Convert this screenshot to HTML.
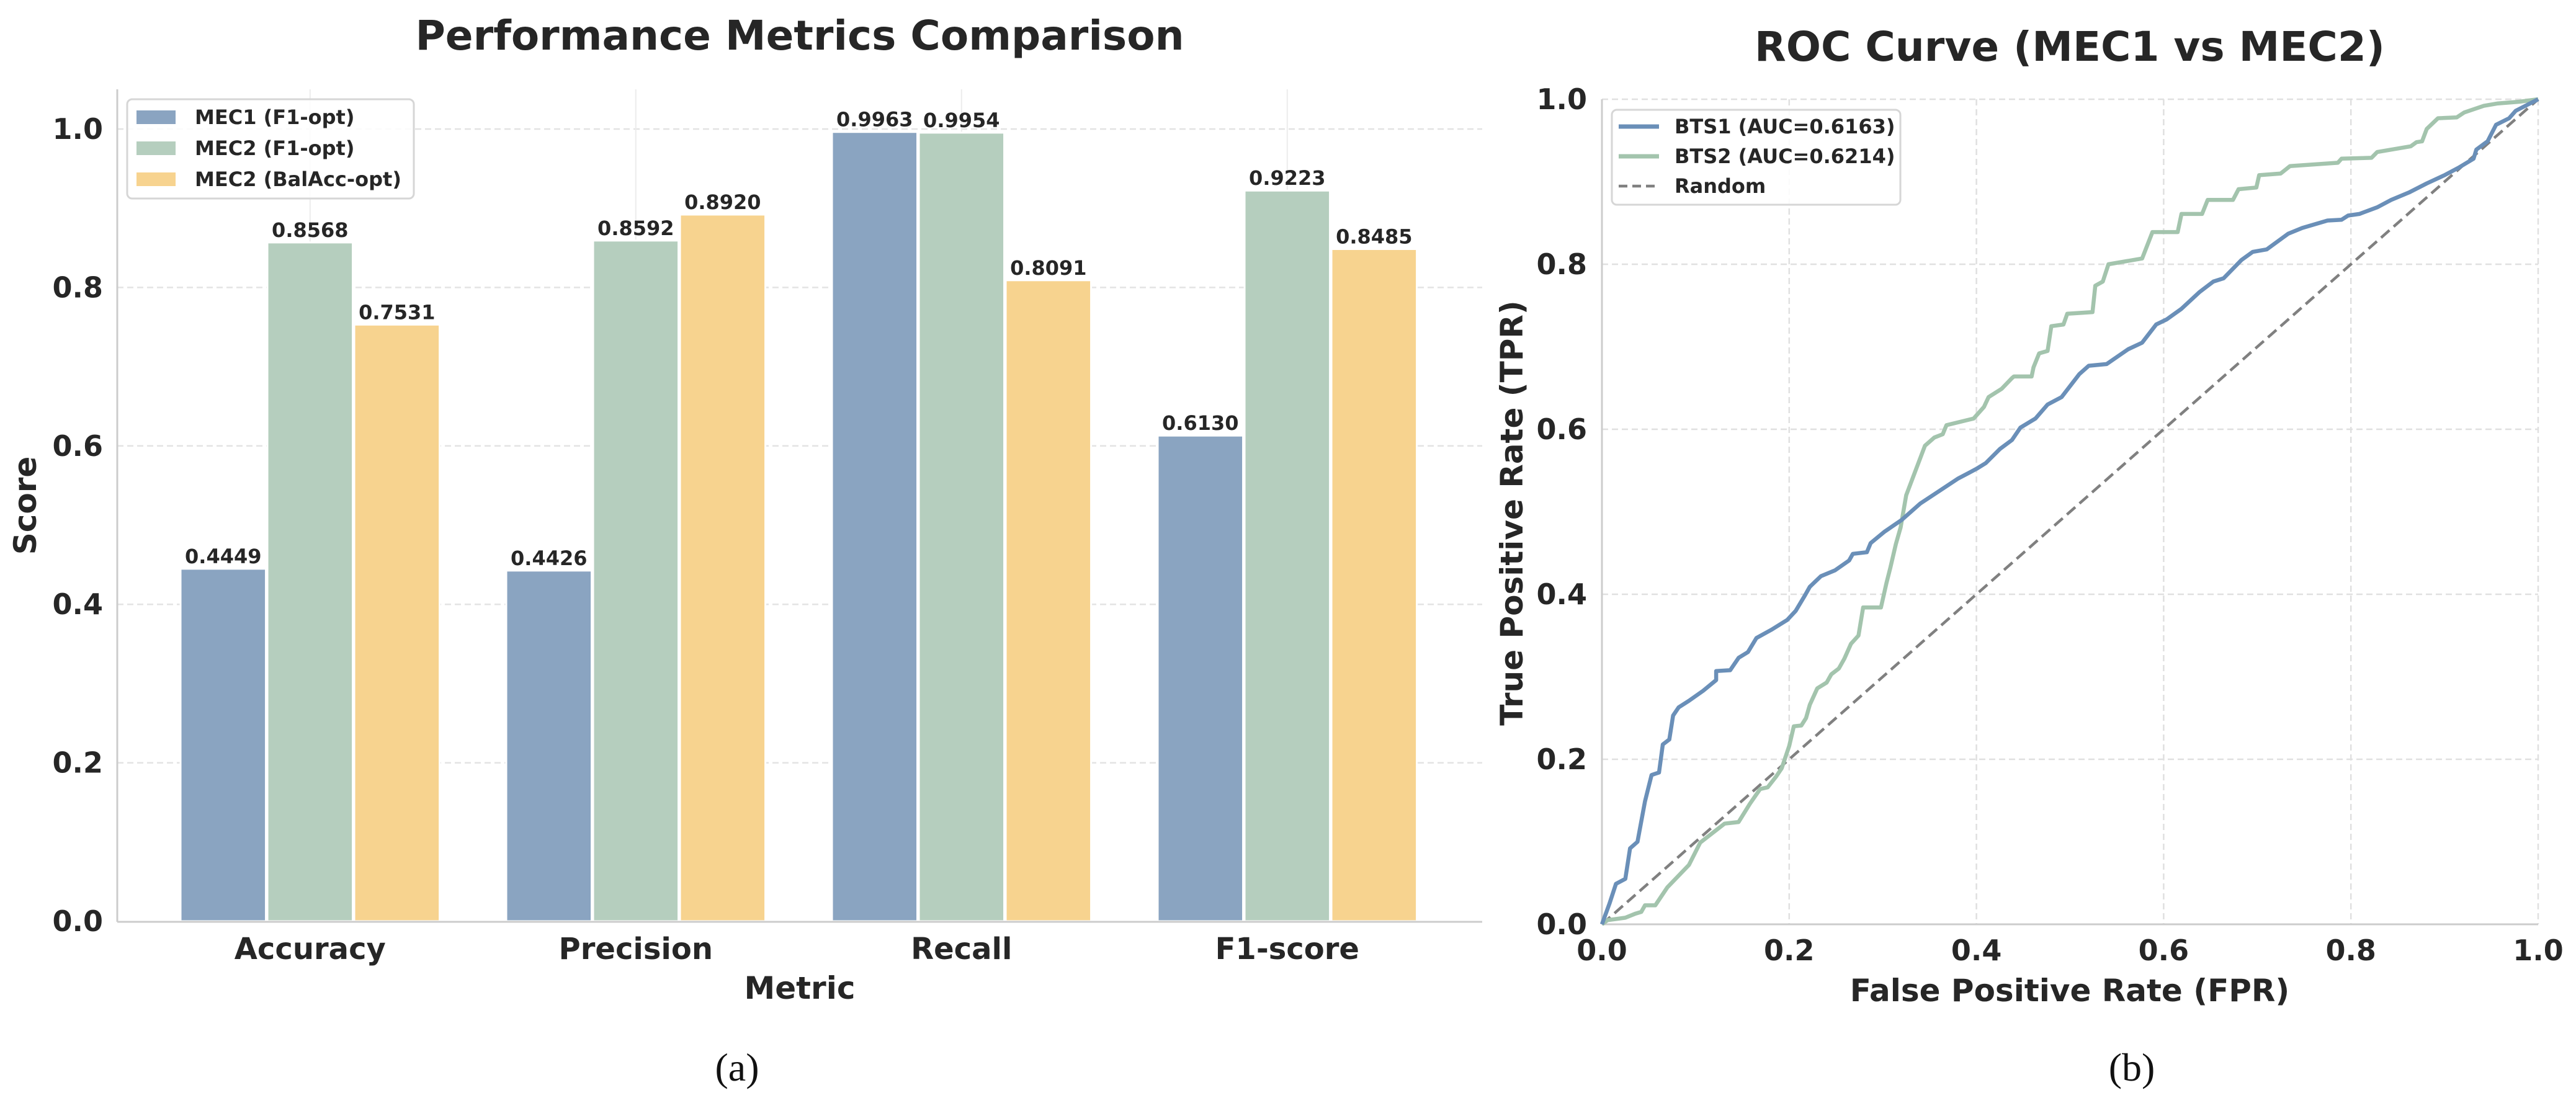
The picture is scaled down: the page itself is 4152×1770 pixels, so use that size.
<!DOCTYPE html>
<html><head><meta charset="utf-8"><style>
html,body{margin:0;padding:0;background:#fff}
svg{display:block;font-family:"DejaVu Sans","Liberation Sans",sans-serif;font-weight:bold}
</style></head><body>
<svg id="fig" width="4152" height="1770" viewBox="0 0 4152 1770" xmlns="http://www.w3.org/2000/svg">
<rect width="4152" height="1770" fill="#fff"/>
<g id="left"></g>
<g id="right"></g>
</svg>
<script>
const categories = ["Accuracy","Precision","Recall","F1-score"];
const seriesNames = ["MEC1 (F1-opt)","MEC2 (F1-opt)","MEC2 (BalAcc-opt)"];
const mec1F1 = [0.4449,0.4426,0.9963,0.6130];
const mec2F1 = [0.8568,0.8592,0.9954,0.9223];
const mec2Bal = [0.7531,0.8920,0.8091,0.8485];
const yTicksLeft = [0,0.2,0.4,0.6,0.8,1.0];
const yTickLabelsLeft = ["0.0","0.2","0.4","0.6","0.8","1.0"];

const bts1Fpr = [0,.008,.015,.025,.030,.038,.046,.053,.061,.065,.072,.076,.082,.093,.108,.122,.122,.137,.146,.156,.165,.181,.198,.207,.217,.222,.234,.249,.264,.268,.283,.287,.302,.32,.34,.36,.38,.40,.41,.425,.438,.447,.463,.476,.491,.510,.520,.539,.562,.577,.592,.603,.619,.638,.653,.664,.683,.695,.710,.733,.748,.775,.790,.797,.809,.828,.843,.862,.881,.900,.915,.931,.934,.946,.955,.969,.976,1];
const bts1Tpr = [0,.025,.049,.055,.092,.100,.149,.181,.184,.218,.224,.253,.263,.271,.283,.296,.307,.308,.323,.330,.347,.357,.369,.380,.399,.409,.422,.429,.441,.449,.451,.462,.476,.49,.51,.525,.54,.552,.559,.576,.587,.602,.613,.630,.639,.667,.677,.679,.697,.705,.727,.733,.746,.766,.779,.783,.805,.815,.818,.837,.844,.853,.854,.859,.861,.869,.878,.887,.898,.908,.917,.928,.939,.949,.969,.977,.986,1];
const bts2Fpr = [0,.006,.025,.036,.042,.046,.057,.070,.082,.093,.105,.114,.131,.146,.158,.169,.177,.186,.192,.200,.205,.213,.218,.222,.230,.240,.245,.253,.259,.266,.274,.279,.298,.304,.308,.314,.319,.325,.335,.345,.355,.364,.368,.397,.408,.413,.427,.438,.440,.459,.461,.467,.476,.480,.493,.497,.524,.527,.535,.541,.577,.588,.615,.619,.641,.647,.674,.680,.699,.702,.725,.735,.786,.790,.822,.828,.864,.870,.876,.881,.893,.913,.921,.942,.957,.980,1];
const bts2Tpr = [0,.005,.008,.013,.015,.023,.023,.045,.059,.072,.099,.107,.122,.124,.146,.164,.166,.179,.189,.216,.240,.241,.250,.266,.286,.293,.303,.310,.322,.340,.350,.384,.384,.414,.432,.461,.481,.52,.55,.58,.59,.594,.605,.613,.627,.639,.649,.662,.664,.664,.675,.692,.695,.725,.727,.740,.742,.774,.779,.800,.807,.839,.839,.861,.861,.878,.878,.891,.893,.908,.910,.919,.923,.928,.929,.936,.943,.948,.949,.964,.977,.978,.984,.992,.995,.997,1];
const rocTicks = [0,0.2,0.4,0.6,0.8,1.0];
const rocTickLabels = ["0.0","0.2","0.4","0.6","0.8","1.0"];
const rocLegend = ["BTS1 (AUC=0.6163)","BTS2 (AUC=0.6214)","Random"];

const NS="http://www.w3.org/2000/svg";
function mk(parent,tag,attrs,text){const e=document.createElementNS(NS,tag);for(const k in attrs)e.setAttribute(k,attrs[k]);if(text!==undefined)e.textContent=text;parent.appendChild(e);return e;}

// ---------- left bar chart ----------
const L=document.getElementById('left');
const lx0=189, lx1=2389, ly0=1485, lyTop=144, lUnit=1277, catW=525, xmin=-0.592;
const bx=v=>lx0+(v-xmin)*catW;
const by=v=>ly0-v*lUnit;
yTicksLeft.forEach((t,i)=>{
  if(t>0){const g=mk(L,'line',{x1:lx0,x2:lx1,y1:by(t),y2:by(t),stroke:'#e3e3e3','stroke-width':2.5,'stroke-dasharray':'10,6'});
  
  }
  const tl=mk(L,'text',{x:166,y:by(t)+16,'text-anchor':'end','font-size':46,fill:'#262626'},yTickLabelsLeft[i]);
  
  
});
categories.forEach((c,i)=>{
  const g=mk(L,'line',{x1:bx(i),x2:bx(i),y1:lyTop,y2:ly0,stroke:'#ececec','stroke-width':2});
  
  
});
const series=[mec1F1,mec2F1,mec2Bal];
const colors=['#8aa4c1','#b5cebe','#f7d38f'];
const offs=[-0.2667,0,0.2667];
const bw=0.262;
series.forEach((s,si)=>{
  s.forEach((v,i)=>{
    const x=bx(i+offs[si]-bw/2);
    const r=mk(L,'rect',{x:x,y:by(v),width:bw*catW,height:ly0-by(v),fill:colors[si],stroke:'#fff','stroke-width':3});
    
    
    const t=mk(L,'text',{x:bx(i+offs[si]),y:by(v)-9,'text-anchor':'middle','font-size':32,fill:'#262626'},v.toFixed(4));
    
    
  });
});
mk(L,'line',{x1:lx0,x2:lx0,y1:lyTop,y2:ly0+1,stroke:'#cccccc','stroke-width':3});
mk(L,'line',{x1:lx0,x2:lx1,y1:ly0+1,y2:ly0+1,stroke:'#cccccc','stroke-width':3});
categories.forEach((c,i)=>{
  const t=mk(L,'text',{x:bx(i),y:1546,'text-anchor':'middle','font-size':48,fill:'#262626'},c);
  
  
});
(function(){
const t1=mk(L,'text',{x:1289,y:80,'text-anchor':'middle','font-size':66,fill:'#262626'},'Performance Metrics Comparison');


const t2=mk(L,'text',{x:1289,y:1610,'text-anchor':'middle','font-size':50,fill:'#262626'},'Metric');


const t3=mk(L,'text',{x:0,y:0,'text-anchor':'middle','font-size':50,fill:'#262626',transform:'translate(58,815) rotate(-90)'},'Score');


const t4=mk(L,'text',{x:1188,y:1742,'text-anchor':'middle','font-size':64,fill:'#111','font-weight':'normal','font-family':'"Liberation Serif",serif'},'(a)');


const lg=mk(L,'g',{});


mk(lg,'rect',{x:205,y:160,width:462,height:160,rx:8,fill:'#fff','fill-opacity':0.85,stroke:'#d6d6d6','stroke-width':3});
seriesNames.forEach((n,i)=>{
  const cy=189+i*50;
  const p=mk(lg,'rect',{x:220,y:cy-11,width:63,height:22,fill:colors[i]});
  
  
  const t=mk(lg,'text',{x:314,y:cy+11,'font-size':32,fill:'#262626'},n);
  
  
});
})();

// ---------- right ROC chart ----------
const R=document.getElementById('right');
const rx0=2582, rx1=4091, ry0=1490, ry1=160;
const rx=f=>rx0+f*(rx1-rx0);
const ry=t=>ry0-t*(ry0-ry1);
rocTicks.forEach((t,i)=>{
  if(t>0){
    const h=mk(R,'line',{x1:rx0,x2:rx1,y1:ry(t),y2:ry(t),stroke:'#e0e0e0','stroke-width':2.5,'stroke-dasharray':'10,6'});
    
    
    const v=mk(R,'line',{x1:rx(t),x2:rx(t),y1:ry1,y2:ry0,stroke:'#e0e0e0','stroke-width':2.5,'stroke-dasharray':'10,6'});
    
    
  }
  const a=mk(R,'text',{x:2558,y:ry(t)+16,'text-anchor':'end','font-size':46,fill:'#262626'},rocTickLabels[i]);
  
  
  const b=mk(R,'text',{x:rx(t),y:1548,'text-anchor':'middle','font-size':46,fill:'#262626'},rocTickLabels[i]);
  
  
});
mk(R,'line',{x1:rx0,x2:rx0,y1:ry1,y2:ry0,stroke:'#cccccc','stroke-width':3});
mk(R,'line',{x1:rx0,x2:rx1,y1:ry0,y2:ry0,stroke:'#cccccc','stroke-width':3});
const diag=mk(R,'line',{x1:rx(0),y1:ry(0),x2:rx(1),y2:ry(1),stroke:'#808080','stroke-width':4.5,'stroke-dasharray':'18,9'});


function pts(fx,ty){return fx.map((f,i)=>rx(f).toFixed(1)+','+ry(ty[i]).toFixed(1)).join(' ');}
const l2=mk(R,'polyline',{points:pts(bts2Fpr,bts2Tpr),fill:'none',stroke:'#a3c4ad','stroke-width':6.5,'stroke-linejoin':'round'});


const l1=mk(R,'polyline',{points:pts(bts1Fpr,bts1Tpr),fill:'none',stroke:'#6a8fb8','stroke-width':6.5,'stroke-linejoin':'round'});


(function(){
const t1=mk(R,'text',{x:3336,y:98,'text-anchor':'middle','font-size':66,fill:'#262626'},'ROC Curve (MEC1 vs MEC2)');


const t2=mk(R,'text',{x:3336,y:1614,'text-anchor':'middle','font-size':50,fill:'#262626'},'False Positive Rate (FPR)');


const t3=mk(R,'text',{x:0,y:0,'text-anchor':'middle','font-size':50,fill:'#262626',transform:'translate(2454,827) rotate(-90)'},'True Positive Rate (TPR)');


const t4=mk(R,'text',{x:3436,y:1742,'text-anchor':'middle','font-size':64,fill:'#111','font-weight':'normal','font-family':'"Liberation Serif",serif'},'(b)');


const lg=mk(R,'g',{});


mk(lg,'rect',{x:2598,y:177,width:465,height:153,rx:8,fill:'#fff','fill-opacity':0.85,stroke:'#d6d6d6','stroke-width':3});
const lc=['#6a8fb8','#a3c4ad','#808080'];
rocLegend.forEach((n,i)=>{
  const cy=204+i*48;
  const ln=mk(lg,'line',{x1:2609,x2:2674,y1:cy,y2:cy,stroke:lc[i],'stroke-width':i==2?4.5:7,'stroke-dasharray':i==2?'14,8':'none'});
  
  
  const t=mk(lg,'text',{x:2699,y:cy+11,'font-size':32,fill:'#262626'},n);
  
  
});
})();
</script>
</body></html>
